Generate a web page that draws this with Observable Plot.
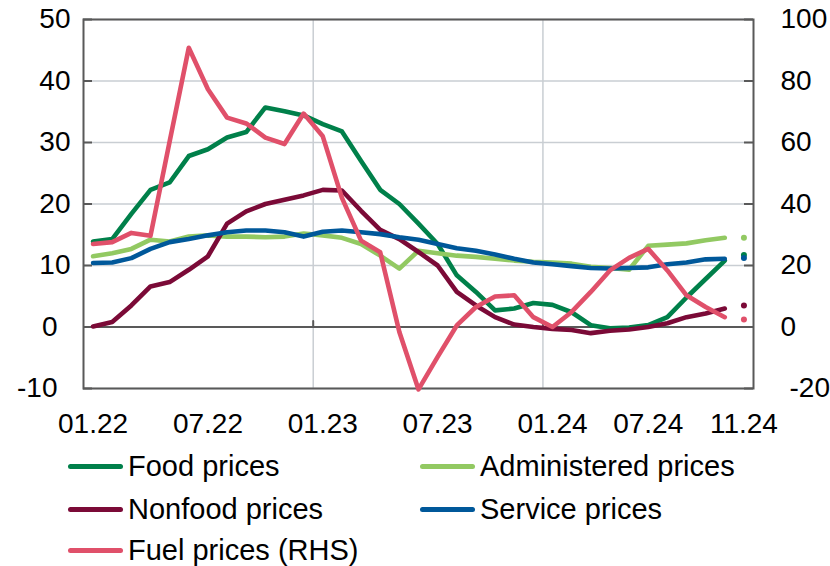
<!DOCTYPE html>
<html>
<head>
<meta charset="utf-8">
<script src="https://cdn.jsdelivr.net/npm/d3@7"></script>
<script src="https://cdn.jsdelivr.net/npm/@observablehq/plot@0.6"></script>
<style>
  html, body { margin: 0; padding: 0; background: #fff; }
  body { width: 830px; height: 566px; overflow: hidden; font-family: "Liberation Sans", Arial, sans-serif; }
  #legend { position: relative; height: 121px; }
  .item { position: absolute; display: flex; align-items: center; height: 42px; font-size: 29px; color: #000; white-space: nowrap; }
  .sw { width: 55px; height: 5px; border-radius: 3px; margin-right: 5px; }
</style>
</head>
<body>
<div id="chart"></div>
<div id="legend"></div>
<script>
// Categories (monthly)
const months = ["01.22","02.22","03.22","04.22","05.22","06.22","07.22","08.22","09.22","10.22","11.22","12.22",
                "01.23","02.23","03.23","04.23","05.23","06.23","07.23","08.23","09.23","10.23","11.23","12.23",
                "01.24","02.24","03.24","04.24","05.24","06.24","07.24","08.24","09.24","10.24","11.24"];

// Series values (01.22 – 10.24), left axis
const food = [13.9, 14.3, 18.4, 22.3, 23.5, 27.8, 28.9, 30.8, 31.7, 35.7, 35.1, 34.4, 33.0, 31.8, 27.0, 22.3, 20.0, 16.8,
              13.5, 8.4, 5.7, 2.7, 3.0, 3.9, 3.6, 2.4, 0.3, -0.2, -0.1, 0.3, 1.6, 4.8, 7.8, 10.8];
const administered = [11.5, 12.0, 12.7, 14.2, 13.9, 14.7, 14.9, 14.7, 14.7, 14.6, 14.7, 15.2, 14.9, 14.5, 13.5, 11.6, 9.5, 12.4,
              12.0, 11.6, 11.4, 11.1, 10.8, 10.6, 10.5, 10.3, 9.8, 9.6, 9.3, 13.2, 13.4, 13.6, 14.1, 14.5];
const nonfood = [0.1, 0.8, 3.5, 6.6, 7.3, 9.3, 11.5, 16.8, 18.8, 20.0, 20.7, 21.4, 22.3, 22.2, 18.9, 15.8, 14.3, 12.2,
              10.0, 5.7, 3.5, 1.6, 0.4, 0.0, -0.3, -0.5, -1.0, -0.6, -0.4, 0.0, 0.6, 1.6, 2.2, 3.0];
const service = [10.4, 10.5, 11.2, 12.7, 13.8, 14.3, 14.9, 15.4, 15.7, 15.7, 15.4, 14.7, 15.5, 15.7, 15.4, 15.1, 14.6, 14.2,
              13.5, 12.8, 12.4, 11.8, 11.1, 10.5, 10.2, 9.9, 9.6, 9.5, 9.6, 9.7, 10.2, 10.5, 11.0, 11.1];
// Right axis (RHS)
const fuel = [27.0, 27.6, 30.6, 29.7, 60.3, 90.8, 77.3, 68.1, 66.2, 61.6, 59.5, 69.4, 62.0, 42.0, 28.1, 24.3, -1.6, -20.3,
              -9.7, 0.5, 6.5, 9.9, 10.3, 3.2, 0.0, 4.9, 11.4, 18.4, 22.5, 25.4, 18.4, 10.3, 6.5, 3.2];

// Latest-month markers (11.24)
const lastMonth = "11.24";
const lastFood = 11.7, lastAdministered = 14.5, lastNonfood = 3.5, lastService = 11.2, lastFuel = 2.4;

// Axis ticks
const xTickLabels = ["01.22","07.22","01.23","07.23","01.24","07.24","11.24"];
const xTickPos = [0, 6, 12, 18, 24, 29, 34];
const yTicksLeft = [-10, 0, 10, 20, 30, 40, 50];
const yTicksRight = [-20, 0, 20, 40, 60, 80, 100];
const yearStarts = ["01.23", "01.24"];

const names = ["Food prices", "Administered prices", "Nonfood prices", "Service prices", "Fuel prices (RHS)"];
const colors = ["#00804a", "#92c962", "#7b0a37", "#00589a", "#e0506a"];

// ---- build tables ----
const rhsFactor = yTicksRight[yTicksRight.length - 1] / yTicksLeft[yTicksLeft.length - 1];
const seriesList = [
  {name: names[0], vals: food, last: lastFood, k: 1},
  {name: names[1], vals: administered, last: lastAdministered, k: 1},
  {name: names[2], vals: nonfood, last: lastNonfood, k: 1},
  {name: names[3], vals: service, last: lastService, k: 1},
  {name: names[4], vals: fuel, last: lastFuel, k: rhsFactor}
];
const lineRows = seriesList.flatMap((s, si) => s.vals.map((v, i) => ({s: s.name, c: colors[si], i, y: v / s.k})));
const dotRows = seriesList.map((s, si) => ({s: s.name, c: colors[si], i: months.indexOf(lastMonth), y: s.last / s.k}));
const gridX = yearStarts.map(m => months.indexOf(m) - 0.5);

const fmt = d => (d < 0 ? "-" + Math.abs(d) : String(d));
const rightLabel = d => fmt(yTicksRight[yTicksLeft.indexOf(d)]);

const W = 830, H = 445, mL = 83, mR = 77, mT = 19, mB = 57;
const plotW = W - mL - mR;
const axisColor = "#595959";
const gridColor = "#c9ced3";

const chart = Plot.plot({
  width: W, height: H,
  marginLeft: mL, marginRight: mR, marginTop: mT, marginBottom: mB,
  style: {fontFamily: "'Liberation Sans', Arial, sans-serif", fontSize: "28px", color: "#000", background: "#fff"},
  x: {type: "linear", domain: [-0.5, months.length - 0.5]},
  y: {domain: [yTicksLeft[0], yTicksLeft[yTicksLeft.length - 1]]},
  marks: [
    Plot.gridY(yTicksLeft, {stroke: gridColor, strokeOpacity: 1, strokeWidth: 1.5}),
    Plot.gridX(gridX, {stroke: gridColor, strokeOpacity: 1, strokeWidth: 1.5}),
    Plot.ruleY([0], {stroke: axisColor, strokeWidth: 2}),
    Plot.vector(gridX, {x: d => d, y: 0, length: 6, rotate: 0, anchor: "start", stroke: axisColor, strokeWidth: 2,
      shape: {draw(ctx, l) { ctx.moveTo(0, 0); ctx.lineTo(0, -l); }}}),
    Plot.tickY(yTicksLeft, {y: d => d, insetRight: plotW - 9, stroke: axisColor, strokeWidth: 2}),
    Plot.tickY(yTicksLeft, {y: d => d, insetLeft: plotW - 9, stroke: axisColor, strokeWidth: 2}),
    Plot.frame({stroke: axisColor, strokeWidth: 2}),
    Plot.line(lineRows, {x: "i", y: "y", z: "s", stroke: "c", strokeWidth: 4.6, strokeLinejoin: "round", strokeLinecap: "round"}),
    Plot.dot(dotRows, {x: "i", y: "y", fill: "c", r: 3}),
    Plot.axisX(xTickPos, {anchor: "bottom", tickSize: 0, tickPadding: 25, label: null,
      tickFormat: d => xTickLabels[xTickPos.indexOf(d)]}),
    Plot.axisY(yTicksLeft.filter(d => d > 0), {anchor: "left", tickSize: 0, tickPadding: 13, label: null, tickFormat: fmt}),
    Plot.axisY(yTicksLeft.filter(d => d <= 0), {anchor: "left", tickSize: 0, tickPadding: 26, label: null, tickFormat: fmt}),
    Plot.axisY(yTicksLeft.filter(d => d >= 0), {anchor: "right", tickSize: 0, tickPadding: 27, label: null, textAnchor: "start",
      tickFormat: rightLabel}),
    Plot.axisY(yTicksLeft.filter(d => d < 0), {anchor: "right", tickSize: 0, tickPadding: 36, label: null, textAnchor: "start",
      tickFormat: rightLabel})
  ]
});
document.getElementById("chart").appendChild(chart);

// ---- legend ----
const legend = document.getElementById("legend");
const pos = [[68, 0], [420, 0], [68, 43], [420, 43], [68, 84]];
names.forEach((n, i) => {
  const it = document.createElement("div");
  it.className = "item";
  it.style.left = pos[i][0] + "px";
  it.style.top = pos[i][1] + "px";
  it.innerHTML = `<span class="sw" style="background:${colors[i]}"></span><span>${n}</span>`;
  legend.appendChild(it);
});
</script>
</body>
</html>
